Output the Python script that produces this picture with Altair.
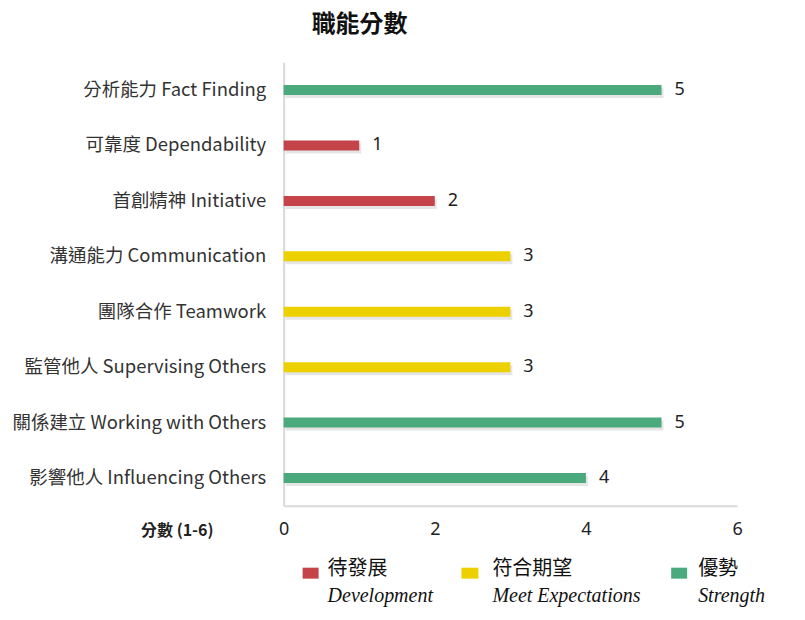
import altair as alt
import pandas as pd

title_text = "職能分數"

skills = [
    "分析能力 Fact Finding",
    "可靠度 Dependability",
    "首創精神 Initiative",
    "溝通能力 Communication",
    "團隊合作 Teamwork",
    "監管他人 Supervising Others",
    "關係建立 Working with Others",
    "影響他人 Influencing Others",
]
scores = [5, 1, 2, 3, 3, 3, 5, 4]
levels = ["優勢", "待發展", "待發展", "符合期望", "符合期望", "符合期望", "優勢", "優勢"]

level_zh = ["待發展", "符合期望", "優勢"]
level_en = ["Development", "Meet Expectations", "Strength"]
level_colors = ["#C4444A", "#EDD000", "#4AAA7E"]
x_ticks = [0, 2, 4, 6]

df = pd.DataFrame({"skill": skills, "score": scores, "level": levels})
legend_df = pd.DataFrame({"zh": level_zh, "en": level_en})
title_df = pd.DataFrame({"t": [title_text]})

CJK = "Noto Sans CJK TC"
color_scale = alt.Scale(domain=level_zh, range=level_colors)

x_enc = alt.X(
    "score:Q",
    scale=alt.Scale(domain=[0, 6]),
    axis=alt.Axis(
        values=x_ticks,
        grid=False,
        ticks=False,
        domainColor="#D9D9D9",
        domainWidth=2,
        labelFlush=False,
        labelPadding=15,
        labelFontSize=18,
        labelFont="Noto Sans",
        labelColor="#222222",
        title="分數 (1-6)",
        titleX=-107,
        titleY=25,
        titleAlign="center",
        titleBaseline="middle",
        titleFont=CJK,
        titleFontSize=16,
        titleFontWeight="bold",
        titleColor="#222222",
    ),
)
y_enc = alt.Y(
    "skill:N",
    sort=skills,
    axis=alt.Axis(
        title=None,
        ticks=False,
        domainColor="#D9D9D9",
        domainWidth=2,
        labelPadding=18,
        labelFontSize=18.5,
        labelFont=CJK,
        labelColor="#333333",
        labelLimit=300,
    ),
)

base = alt.Chart(df)

shadow = base.mark_bar(size=10, color="#000000", opacity=0.1, yOffset=3, xOffset=2).encode(
    x=x_enc, y=y_enc
)
bars = base.mark_bar(size=10).encode(
    x=x_enc,
    y=y_enc,
    color=alt.Color("level:N", scale=color_scale, legend=None),
)
values = base.mark_text(
    align="left", baseline="middle", dx=13, fontSize=18, font="Noto Sans", color="#222222"
).encode(x=x_enc, y=y_enc, text="score:Q")

title_mark = alt.Chart(title_df).mark_text(
    align="center", baseline="middle", font=CJK, fontSize=24, fontWeight="bold", color="#111111"
).encode(x=alt.value(76), y=alt.value(-37), text="t:N")

# manual legend (square + Chinese label + italic English label)
legend_pos = [(19, 35, 44), (178, 195, 209), (388, 404, 415)]
legend_layers = []
for (sx0, sx1, tx), zh in zip(legend_pos, level_zh):
    item = alt.Chart(legend_df).transform_filter(alt.datum.zh == zh)
    legend_layers.append(
        item.mark_rect().encode(
            x=alt.value(sx0), x2=alt.value(sx1), y=alt.value(506), y2=alt.value(517),
            color=alt.Color("zh:N", scale=color_scale, legend=None),
        )
    )
    legend_layers.append(
        item.mark_text(align="left", baseline="middle", font=CJK, fontSize=20, color="#111111").encode(
            x=alt.value(tx), y=alt.value(507), text="zh:N"
        )
    )
    legend_layers.append(
        item.mark_text(
            align="left", baseline="alphabetic", font="Liberation Serif", fontStyle="italic",
            fontSize=20, color="#111111",
        ).encode(x=alt.value(tx), y=alt.value(540), text="en:N")
    )

chart = alt.layer(shadow, bars, values, title_mark, *legend_layers).properties(
    width=454,
    height=444,
    padding={"left": 276, "top": 54, "right": 60, "bottom": 110},
    autosize=alt.AutoSizeParams(type="none"),
).configure_view(strokeWidth=0)

chart.save("out.html", embed_options={"renderer": "svg", "actions": False})
